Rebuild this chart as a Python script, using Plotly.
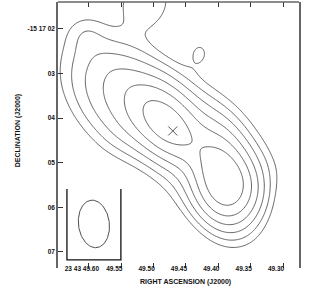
import numpy as np
import plotly.graph_objects as go

# ---- axis ticks (RA seconds after 23h43m, Dec arcsec after -15d17m) ----
ra_ticks = [49.60, 49.55, 49.50, 49.45, 49.40, 49.35, 49.30]
ra_labels = ["23 43 49.60", "49.55", "49.50", "49.45", "49.40", "49.35", "49.30"]
dec_ticks = [2, 3, 4, 5, 6, 7]
dec_labels = ["-15 17 02", "03", "04", "05", "06", "07"]
ra_range = [49.6478, 49.2753]
dec_range = [7.36, 1.395]

# ---- source model (components estimated from the map) ----
comp_ra    = [49.4735, 49.3963, 49.3793, 49.4904, 49.5290, 49.5120, 49.6046, 49.4272, 49.3978, 49.3701, 49.4505]
comp_dec   = [4.220,   5.206,   5.520,   3.816,   3.592,   1.350,   2.022,   2.493,   3.933,   6.283,   5.648]
comp_peak  = [0.46,    0.47,    0.26,    0.07,    0.25,    0.11,    0.04,    0.065,   0.08,    0.07,    0.06]
comp_pa    = [41,      14,      0,       49,      49,      0,       0,       0,       49,      0,       49]
comp_maj_p = [0.626,   0.671,   0.492,   1.566,   1.163,   0.537,   0.313,   0.268,   1.454,   0.671,   0.895]
comp_maj_n = [0.626,   0.671,   0.492,   1.566,   0.783,   0.537,   0.313,   0.268,   1.454,   0.671,   0.895]
comp_min_p = [0.403,   0.403,   0.492,   0.761,   0.800,   0.537,   0.313,   0.224,   0.358,   0.671,   0.492]
comp_min_n = [0.403,   0.403,   0.492,   0.492,   0.582,   0.537,   0.313,   0.224,   0.537,   0.671,   0.358]
levels = [0.08, 0.116, 0.168, 0.244, 0.354, 0.513]

# peak position marker and restoring beam
peak_ra, peak_dec = 49.4704, 4.287
beam_ra, beam_dec = 49.5923, 6.372
beam_major, beam_minor, beam_pa = 1.07, 0.69, 7
beam_box_ra = [49.634, 49.5506]
beam_box_dec = [5.587, 7.179]

RA_SCALE = 15 * np.cos(np.radians(15 + 17 / 60))

ra = np.linspace(ra_range[1], ra_range[0], 260)
dec = np.linspace(dec_range[1], dec_range[0], 280)
RAg, DECg = np.meshgrid(ra, dec)
z = np.zeros_like(RAg)
for i in range(len(comp_ra)):
    e = (RAg - comp_ra[i]) * RA_SCALE
    n = -(DECg - comp_dec[i])
    pa = np.radians(comp_pa[i])
    a = e * np.sin(pa) + n * np.cos(pa)
    b = e * np.cos(pa) - n * np.sin(pa)
    sa = np.where(a >= 0, comp_maj_p[i], comp_maj_n[i])
    sb = np.where(b >= 0, comp_min_p[i], comp_min_n[i])
    z += comp_peak[i] * np.exp(-0.5 * ((a / sa) ** 2 + (b / sb) ** 2))

fig = go.Figure()
for lv in levels:
    fig.add_trace(go.Contour(
        x=ra, y=dec, z=z, showscale=False, hoverinfo="skip",
        contours=dict(coloring="none", start=lv, end=lv, size=1),
        line=dict(color="#3a3a3a", width=0.8, smoothing=1.0),
    ))

# beam ellipse
t = np.linspace(0, 2 * np.pi, 120)
pa = np.radians(beam_pa)
aa = beam_major / 2 * np.cos(t)
bb = beam_minor / 2 * np.sin(t)
be = aa * np.sin(pa) + bb * np.cos(pa)
bn = aa * np.cos(pa) - bb * np.sin(pa)
fig.add_trace(go.Scatter(x=beam_ra + be / RA_SCALE, y=beam_dec - bn, mode="lines",
                         line=dict(color="#3a3a3a", width=0.9), hoverinfo="skip", showlegend=False))
# beam box (open at the top)
fig.add_trace(go.Scatter(
    x=[beam_box_ra[0], beam_box_ra[0], beam_box_ra[1], beam_box_ra[1]],
    y=[beam_box_dec[0], beam_box_dec[1], beam_box_dec[1], beam_box_dec[0]],
    mode="lines", line=dict(color="#111", width=1.3), hoverinfo="skip", showlegend=False))
# peak cross
fig.add_trace(go.Scatter(x=[peak_ra], y=[peak_dec], mode="markers",
                         marker=dict(symbol="x-thin", size=9, line=dict(color="#555", width=1)),
                         hoverinfo="skip", showlegend=False))

tfont = dict(family="Liberation Sans", size=6.5, color="#111", weight="bold")
font = dict(family="Liberation Sans", size=7, color="#111", weight="bold")
fig.update_layout(
    width=314, height=287, margin=dict(l=58, r=15, t=2, b=19),
    paper_bgcolor="white", plot_bgcolor="white", showlegend=False, font=font,
    xaxis=dict(range=ra_range, tickvals=ra_ticks, ticktext=ra_labels, ticks="inside",
               ticklen=5, tickcolor="#333", tickwidth=1, showline=False, mirror="ticks",
               showgrid=False, zeroline=False, tickfont=tfont, ticklabelshift=7, tickangle=0,
               ticklabelstandoff=-5, automargin=False),
    yaxis=dict(range=dec_range, tickvals=dec_ticks, ticktext=dec_labels, ticks="inside",
               ticklen=5, tickcolor="#333", tickwidth=1, showline=True, linecolor="#666",
               linewidth=1.5, mirror=True, showgrid=False, zeroline=False, tickfont=tfont,
               automargin=False),
    shapes=[dict(type="line", xref="paper", yref="paper", x0=0, x1=1, y0=1, y1=1,
                 line=dict(color="#666", width=1.5))],
    annotations=[
        dict(text="RIGHT ASCENSION (J2000)", xref="paper", yref="paper", x=0.527, y=-0.053,
             showarrow=False, xanchor="center", yanchor="middle", font=font),
        dict(text="DECLINATION (J2000)", xref="paper", yref="paper", x=-0.165, y=0.515,
             showarrow=False, textangle=-90, xanchor="center", yanchor="middle", font=font),
    ],
)
fig.write_html("out.html", config={"displayModeBar": False},
               post_script="document.body.style.margin='0';document.body.style.padding='0';")
